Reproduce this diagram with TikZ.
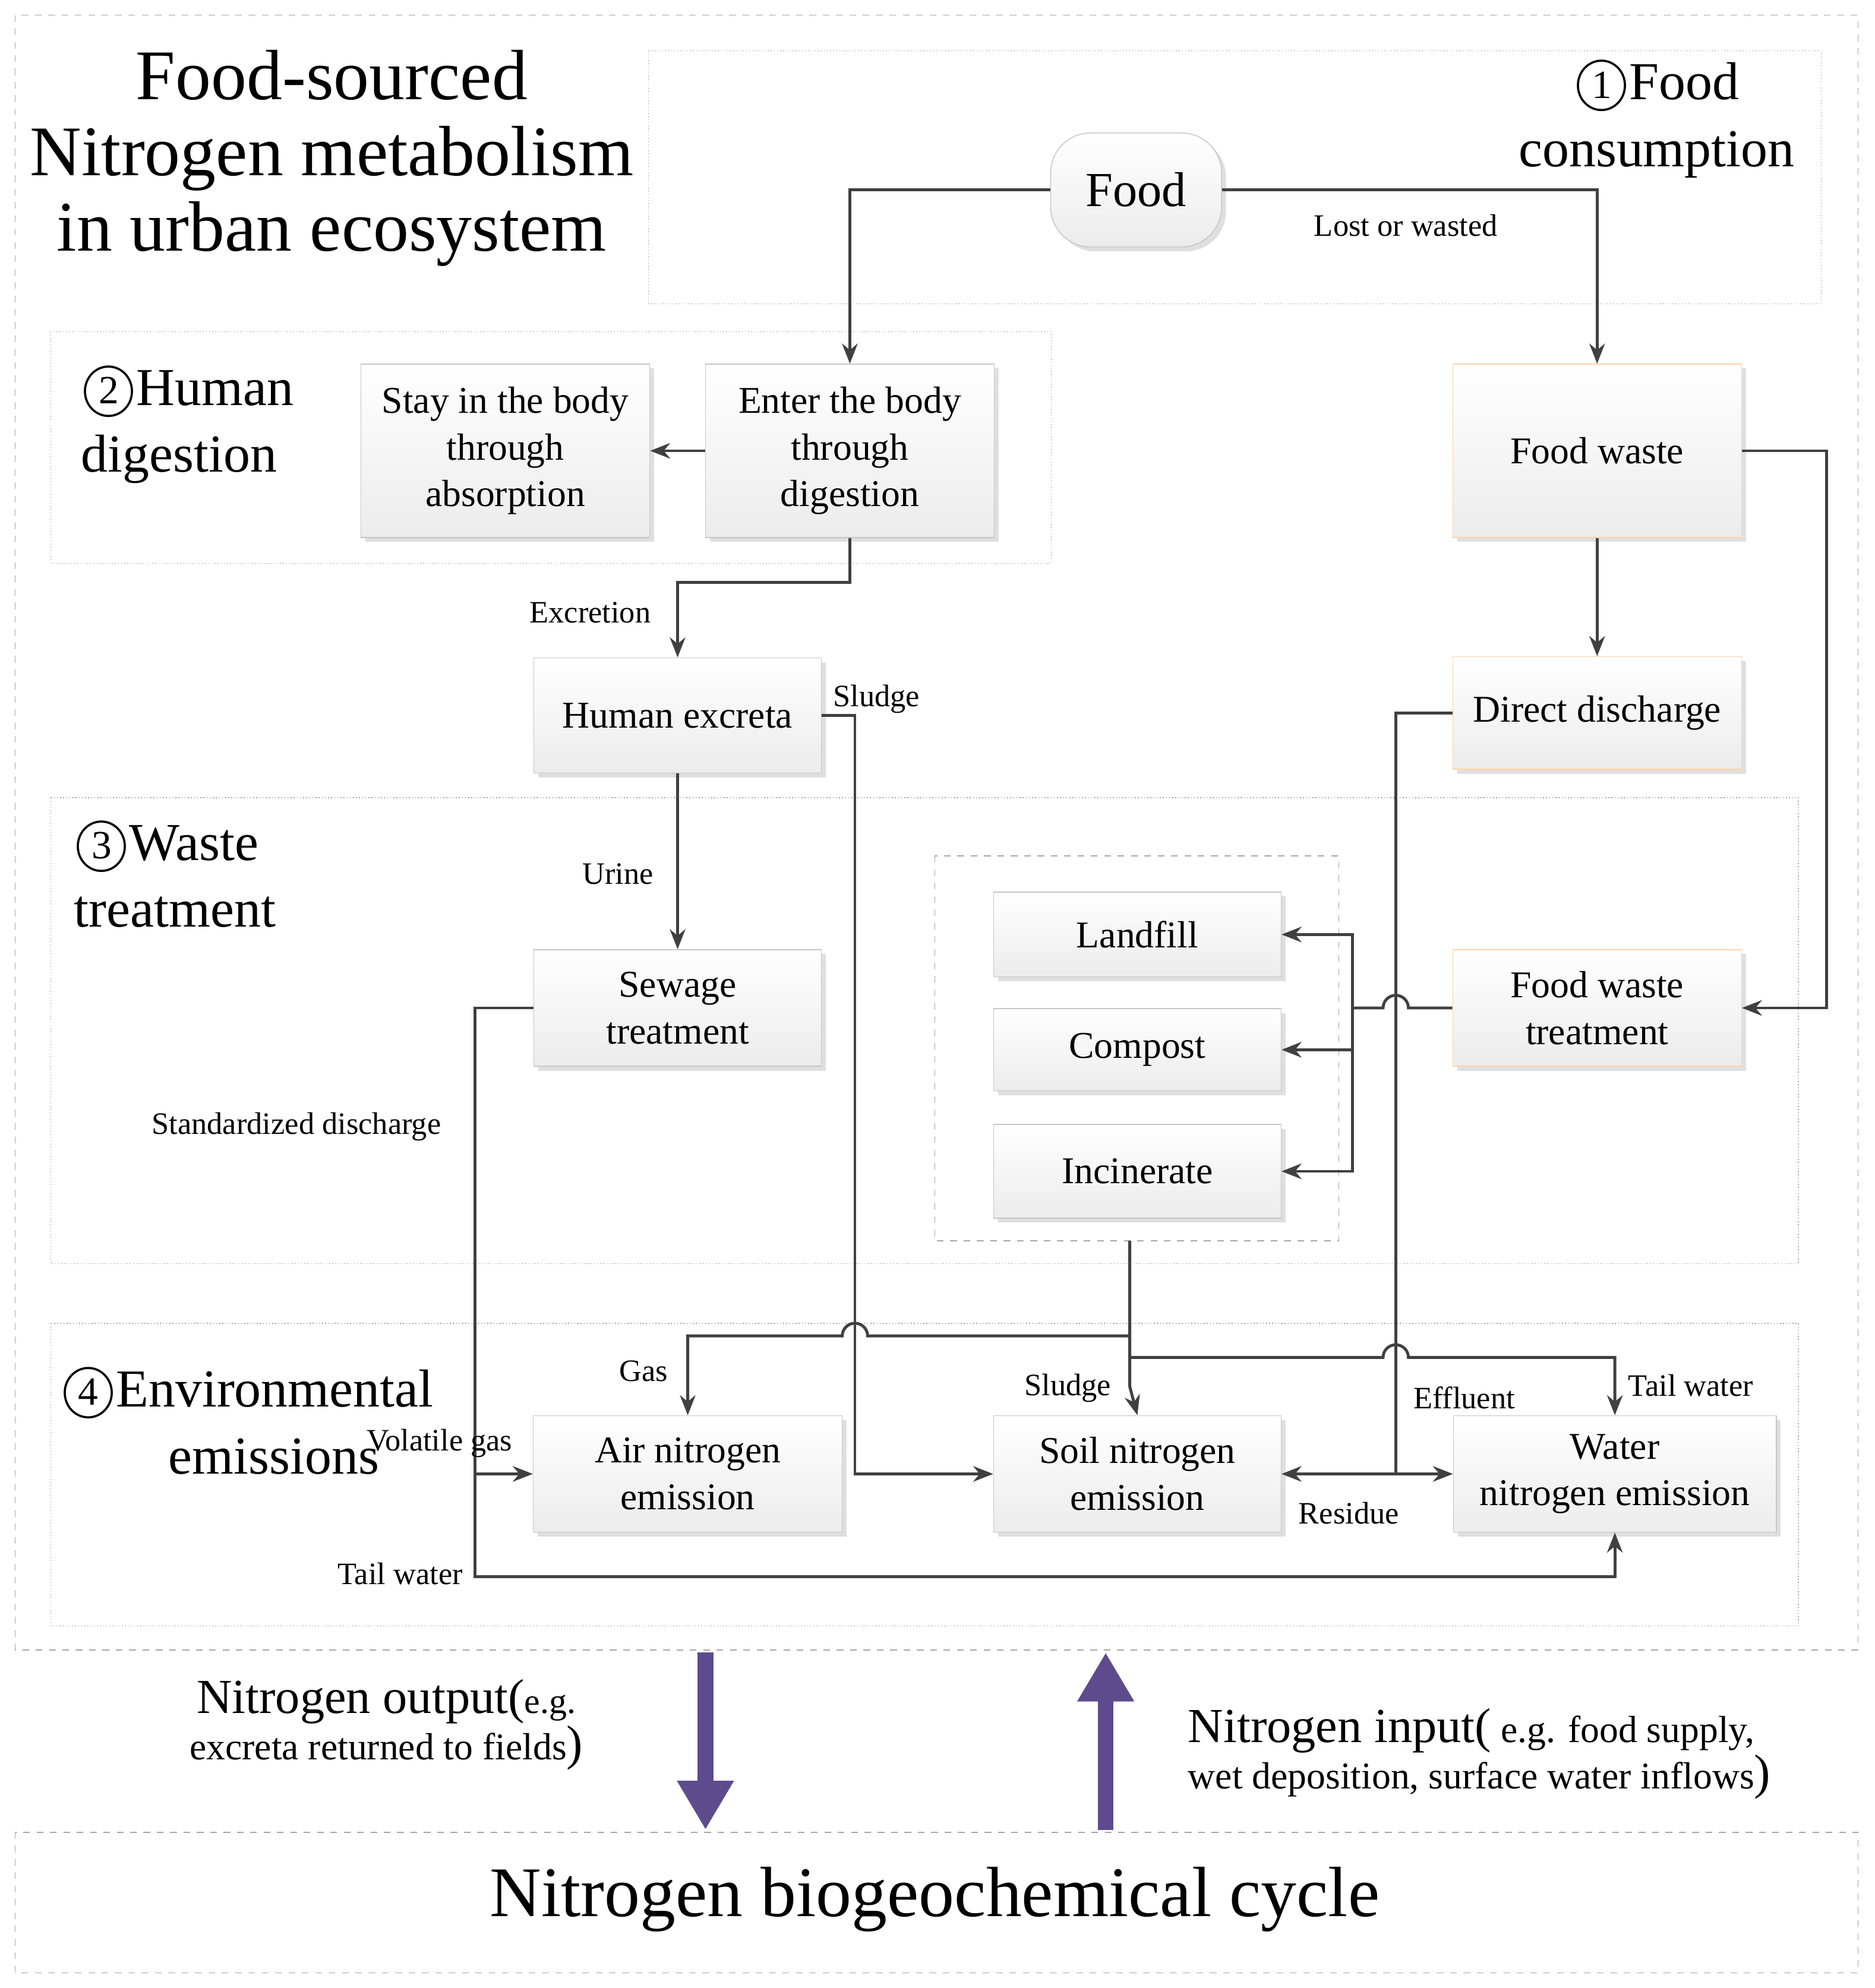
\documentclass[tikz,border=0pt]{standalone}
\usepackage{fontspec}
\setmainfont{Liberation Serif}
\usetikzlibrary{shadows,arrows.meta}
\definecolor{bigc}{HTML}{5E4B8E}
\begin{document}
\begin{tikzpicture}[x=0.02cm,y=-0.02cm,
 box/.style={draw=gray!45,top color=white,bottom color=gray!15,drop shadow={opacity=0.25,shadow xshift=2pt,shadow yshift=-2pt},align=center,font=\fontsize{17}{21}\selectfont,inner sep=0pt},
 obox/.style={box,draw=orange!35},
 sec/.style={draw=gray!75,densely dotted,thin},
 lab/.style={font=\fontsize{14}{16}\selectfont},
 seclab/.style={font=\fontsize{24}{30}\selectfont,align=left},
 ar/.style={draw=black!75,line width=1.3pt,-{Stealth[length=9pt,width=7pt]}},
 ln/.style={draw=black!75,line width=1.3pt},
 big/.style={draw=bigc,line width=7pt,-{Triangle[length=22pt,width=24pt]}}]
\useasboundingbox (0,0) rectangle (1480,1570);
\draw[gray!70,dashed] (12,12) rectangle (1467,1303);
\draw[gray!70,dashed] (12,1447) rectangle (1467,1558);
\node[font=\fontsize{32}{34}\selectfont,align=center] (title) at (262,125) {Food-sourced\\Nitrogen metabolism\\in urban ecosystem};
\draw[sec] (512,40) rectangle (1438,240);
\node[seclab,align=center] (s1) at (1308,95) {\textcircled{\fontsize{18}{18}\selectfont 1}Food\\consumption};
\draw[sec] (40,262) rectangle (830,445);
\node[seclab] (s2) at (148,337) {\textcircled{\fontsize{18}{18}\selectfont 2}Human\\ digestion};
\draw[sec] (40,630) rectangle (1420,998);
\node[seclab] (s3) at (138,692) {\textcircled{\fontsize{18}{18}\selectfont 3}Waste\\treatment};
\draw[sec] (40,1045) rectangle (1420,1284);
\node[seclab,align=center] (s4) at (195,1123) {\textcircled{\fontsize{18}{18}\selectfont 4}Environmental\\\ \ \ \ emissions};
\node[box,rounded corners=18pt,minimum width=2.7cm,minimum height=1.8cm,font=\fontsize{22}{24}\selectfont] (food) at (897,150) {Food};
\node[box,minimum width=4.56cm,minimum height=2.74cm] (stay) at (399,356) {Stay in the body\\through\\absorption};
\node[box,minimum width=4.56cm,minimum height=2.74cm] (enter) at (671,356) {Enter the body\\through\\digestion};
\node[obox,minimum width=4.56cm,minimum height=2.74cm] (fw) at (1261,356) {Food waste};
\node[box,minimum width=4.54cm,minimum height=1.82cm] (hex) at (535,565) {Human excreta};
\node[obox,minimum width=4.56cm,minimum height=1.78cm] (dd) at (1261,563) {Direct discharge};
\node[box,minimum width=4.54cm,minimum height=1.84cm] (sew) at (535,796) {Sewage\\treatment};
\draw[gray!70,dashed] (738,676) rectangle (1057,980);
\node[box,minimum width=4.54cm,minimum height=1.34cm] (lf) at (898,738) {Landfill};
\node[box,minimum width=4.54cm,minimum height=1.3cm] (cp) at (898,829) {Compost};
\node[box,minimum width=4.54cm,minimum height=1.48cm] (inc) at (898,925) {Incinerate};
\node[obox,minimum width=4.56cm,minimum height=1.84cm] (fwt) at (1261,796) {Food waste\\treatment};
\node[box,minimum width=4.88cm,minimum height=1.84cm] (air) at (543,1164) {Air nitrogen\\emission};
\node[box,minimum width=4.54cm,minimum height=1.84cm] (soil) at (898,1164) {Soil nitrogen\\emission};
\node[box,minimum width=5.1cm,minimum height=1.84cm] (water) at (1275,1164) {Water\\nitrogen emission};
\coordinate (jc) at (892,1055);
% connectors
\draw[ar] (food.west) -| (enter.north);
\draw[ar] (food.east) -| (fw.north);
\node[lab] (l1) at (1110,178) {Lost or wasted};
\draw[ar] (enter.west) -- (stay.east);
\draw[ar] (enter.south) -- (671,460) -| (hex.north);
\node[lab] (l2) at (466,484) {Excretion};
\draw[ar] (hex.south) -- (sew.north);
\node[lab] (l3) at (488,690) {Urine};
\draw[ar] (hex.east) -- (675,565) -- (675,1164) -- (soil.west);
\node[lab] (l4) at (692,552) {Sludge};
\draw[ar] (sew.west) -- (375,796) -- (375,1245) -| (water.south);
\draw[ar] (375,1164) -- (air.west);
\node[lab] (l5) at (234,890) {Standardized discharge};
\node[lab] (l6) at (316,1243) {Tail water};
\node[lab] (l7) at (347,1140) {Volatile gas};
\draw[ar] (fw.south) -- (dd.north);
\draw[ar] (fw.east) -- (1442,356) |- (fwt.east);
\draw[ln] (fwt.west) -- (1112,796) arc (0:-180:10) -- (1068,796);
\draw[ar] (1068,796) |- (lf.east);
\draw[ar] (1068,829) -- (cp.east);
\draw[ar] (1068,796) |- (inc.east);
\draw[ln] (dd.west) -- (1102,563) -- (1102,1164);
\draw[ar] (1102,1164) -- (soil.east);
\draw[ar] (1102,1164) -- (water.west);
\node[lab] (l8) at (1156,1104) {Effluent};
\node[lab] (l9) at (1065,1195) {Residue};
\draw[ar] (892,980) -- (892,1095) -- (soil.north);
\draw[ar] (jc) -- (685,1055) arc (0:-180:10) -- (543,1055) -- (air.north);
\node[lab] (l10) at (508,1083) {Gas};
\draw[ar] (892,1072) -- (1092,1072) arc (180:360:10) -- (1275,1072) -- (water.north);
\node[lab] (l11) at (843,1096) {Sludge};
\node[lab] (l12) at (1335,1094) {Tail water};
% bottom
\draw[big] (557,1305) -- (557,1445);
\draw[big] (873,1445) -- (873,1305);
\node[align=center] (out) at (305,1362) {{\fontsize{22}{28}\selectfont Nitrogen output(}{\fontsize{16}{28}\selectfont e.g.}\\{\fontsize{17}{28}\selectfont excreta returned to fields}{\fontsize{22}{28}\selectfont)}};
\node[align=left] (in) at (1168,1385) {{\fontsize{22}{28}\selectfont Nitrogen input(}{\fontsize{17}{28}\selectfont\ e.g. food supply,}\\{\fontsize{17}{28}\selectfont wet deposition, surface water inflows}{\fontsize{22}{28}\selectfont)}};
\node[font=\fontsize{32}{34}\selectfont] (cyc) at (738,1500) {Nitrogen biogeochemical cycle};
\end{tikzpicture}
\end{document}
